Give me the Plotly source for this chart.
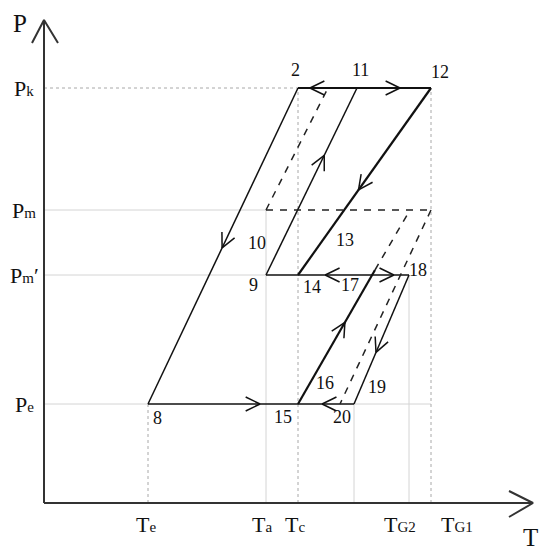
import math
import plotly.graph_objects as go

# ---- Temperature and pressure levels (diagram units) ----
T_e, T_a, T_c, T_20, T_G2, T_G1 = 104, 222, 254, 310, 365, 387
P_k, P_m, P_m2, P_e = 415, 293, 228, 99

# ---- State points ----
state_names = ["2", "11", "12", "8", "9", "14", "15", "18", "20", "17a", "m_a", "m_g1", "m_16", "k_d", "e_d"]
state_T = [T_c, 313, T_G1, T_e, T_a, T_c, T_c, T_G2, T_20, 331, T_a, T_G1, 366, 284, 296]
state_P = [P_k, P_k, P_k, P_e, P_m2, P_m2, P_e, P_m2, P_e, 233, P_m, P_m, P_m, P_k, P_e]
S = {n: (t, p) for n, t, p in zip(state_names, state_T, state_P)}

# ---- Process lines ----
solid_thin = [["2", "8"], ["8", "15", "20"], ["9", "14", "18"], ["9", "11"], ["18", "20"]]
solid_thick = [["2", "12"], ["12", "14"], ["15", "17a"]]
dashed = [["m_a", "m_g1"], ["m_a", "k_d"], ["17a", "m_16"], ["m_g1", "e_d"]]

# ---- Direction arrows: (from, to, fraction along segment) ----
arrows = [("2", "8", 0.506), ("8", "15", 0.747), ("20", "15", 0.57), ("15", "17a", 0.61),
          ("18", "20", 0.60), ("18", "14", 0.755), ("14", "18", 0.864), ("9", "11", 0.64),
          ("12", "14", 0.545), ("12", "2", 0.91), ("2", "12", 0.767)]

# ---- Guide lines (gray) ----
guides_solid = [[(0, P_m), (T_a, P_m)], [(0, P_m2), (T_a, P_m2)], [(0, P_e), (T_e, P_e)],
                [(T_20, P_e), (T_G1, P_e)], [(T_a, 0), (T_a, P_m)], [(T_20, 0), (T_20, P_e)],
                [(T_G2, 0), (T_G2, P_m2)]]
guides_dot = [[(0, P_k), (T_c, P_k)], [(T_e, 0), (T_e, P_e)], [(T_c, 0), (T_c, P_k)],
              [(T_G1, 0), (T_G1, P_k)]]

# ---- Labels ----
pt_labels = ["2", "11", "12", "10", "13", "9", "14", "17", "18", "16", "19", "20", "15", "8"]
pt_label_T = [251, 316, 396, 213, 301, 209, 268, 306, 374, 281, 333, 298, 239, 113]
pt_label_P = [433, 433, 431, 260, 263, 218, 216, 218, 233, 120, 116, 86, 86, 85]

p_tick_main = ["P", "P", "P", "P"]
p_tick_sub = ["k", "m", "m", "e"]
p_tick_suffix = ["", "", "′", ""]
p_tick_vals = [P_k, P_m, P_m2, P_e]
t_tick_sub = ["e", "a", "c", "G2", "G1"]
t_tick_label_T = [102, 218, 251, 356, 413]

T_MAX, P_MAX = 489, 483

fig = go.Figure()


def poly_xy(list_of_paths):
    xs, ys = [], []
    for path in list_of_paths:
        for pnt in path:
            if isinstance(pnt, str):
                t, p = S[pnt]
            else:
                t, p = pnt
            xs.append(t)
            ys.append(p)
        xs.append(None)
        ys.append(None)
    return xs, ys


def add_lines(paths, color, width, dash="solid"):
    xs, ys = poly_xy(paths)
    fig.add_trace(go.Scatter(x=xs, y=ys, mode="lines", hoverinfo="skip",
                             line=dict(color=color, width=width, dash=dash)))


add_lines(guides_solid, "#d4d4d4", 1)
add_lines(guides_dot, "#a8a8a8", 1, "dot")
add_lines(solid_thin, "#111111", 1.5)
add_lines(solid_thick, "#111111", 2.2)
add_lines(dashed, "#222222", 1.5, "7px,7px")

# Chevron arrowheads
ax, ay = [], []
L, ang = 16, math.radians(26)
for a, b, f in arrows:
    (t1, p1), (t2, p2) = S[a], S[b]
    tx, ty = t1 + f * (t2 - t1), p1 + f * (p2 - p1)
    d = math.hypot(t2 - t1, p2 - p1)
    ux, uy = (t2 - t1) / d, (p2 - p1) / d
    for s in (1, -1):
        c, sn = math.cos(s * ang), math.sin(s * ang)
        rx, ry = ux * c - uy * sn, ux * sn + uy * c
        ax += [tx - L * rx, tx, None]
        ay += [ty - L * ry, ty, None]
fig.add_trace(go.Scatter(x=ax, y=ay, mode="lines", hoverinfo="skip",
                         line=dict(color="#111111", width=1.5)))

# Axes with open arrowheads
axis_x = [0, 0, None, -12, 0, 14, None, 0, T_MAX, None, T_MAX - 24, T_MAX, T_MAX - 24]
axis_y = [0, P_MAX, None, P_MAX - 23, P_MAX, P_MAX - 23, None, 0, 0, None, 12, 0, -14]
fig.add_trace(go.Scatter(x=axis_x, y=axis_y, mode="lines", hoverinfo="skip",
                         line=dict(color="#333333", width=2)))

serif = "Liberation Serif"
SUB = '<span style="font-size:15px">{}</span>'
for txt, t, p in zip(pt_labels, pt_label_T, pt_label_P):
    fig.add_annotation(x=t, y=p, text=txt, showarrow=False, xanchor="center", yanchor="middle",
                       font=dict(family=serif, size=18, color="#111"))
for m, s, suf, p in zip(p_tick_main, p_tick_sub, p_tick_suffix, p_tick_vals):
    fig.add_annotation(x=-20, y=p, text=m + SUB.format(s) + suf, showarrow=False,
                       xanchor="center", yanchor="middle",
                       font=dict(family=serif, size=22, color="#111"))
for s, t in zip(t_tick_sub, t_tick_label_T):
    fig.add_annotation(x=t, y=-21, text="T" + SUB.format(s), showarrow=False,
                       xanchor="center", yanchor="middle",
                       font=dict(family=serif, size=22, color="#111"))
fig.add_annotation(x=-24, y=480, text="P", showarrow=False, font=dict(family=serif, size=25, color="#111"))
fig.add_annotation(x=486, y=-34, text="T", showarrow=False, font=dict(family=serif, size=25, color="#111"))

# page body adds an 8 px margin, so the figure is 542 px and ranges are offset accordingly
fig.update_layout(width=542, height=542, margin=dict(l=0, r=0, t=0, b=0),
                  plot_bgcolor="white", paper_bgcolor="white", showlegend=False,
                  font=dict(family=serif))
fig.update_xaxes(range=[-36, 506], visible=False, fixedrange=True)
fig.update_yaxes(range=[-47, 495], visible=False, fixedrange=True)
fig.write_html("out.html")
